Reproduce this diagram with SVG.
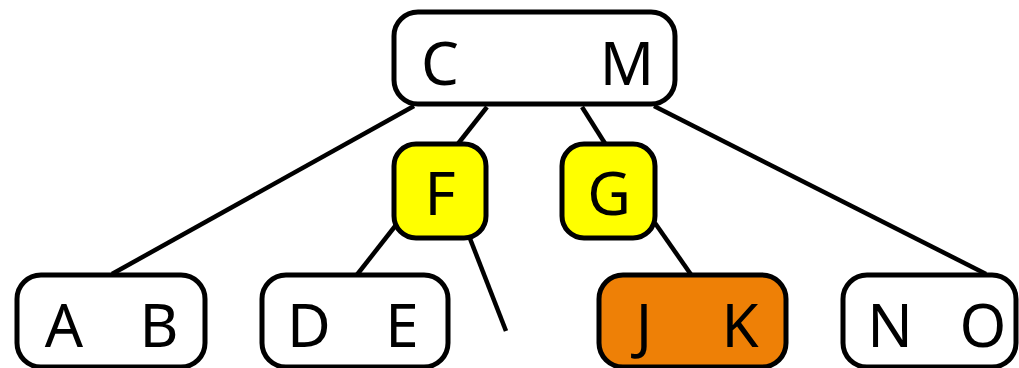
<svg xmlns="http://www.w3.org/2000/svg" width="1019" height="368" viewBox="0 0 1019 368">
<style>
.n{stroke:#000;stroke-width:5}
.w{fill:#fff}
.y{fill:#ffff00}
.o{fill:#ee8006}
.t{font-family:"Noto Sans","Open Sans",sans-serif;font-size:60px;fill:#000;text-anchor:middle}
.e{stroke:#000;stroke-width:4.5;fill:none}
</style>
<g id="edges">
<line class="e" x1="414" y1="106" x2="112" y2="274"/>
<line class="e" x1="487" y1="107" x2="457" y2="145"/>
<line class="e" x1="582" y1="107" x2="606" y2="145"/>
<line class="e" x1="654" y1="106" x2="986" y2="274"/>
<line class="e" x1="396" y1="225" x2="356" y2="276"/>
<line class="e" x1="469" y1="236" x2="506" y2="331"/>
<line class="e" x1="655" y1="223" x2="692" y2="276"/>
</g>
<g id="CM"><rect class="n w" x="394" y="12" width="281" height="92" rx="24"/><text class="t" x="440" y="85">C</text><text class="t" x="627" y="85">M</text></g>
<g id="F"><rect class="n y" x="394" y="144" width="92" height="94" rx="22"/><text class="t" x="440" y="215">F</text></g>
<g id="G"><rect class="n y" x="562" y="144" width="93" height="94" rx="22"/><text class="t" x="609" y="215">G</text></g>
<g id="AB"><rect class="n w" x="17" y="275" width="188" height="92" rx="24"/><text class="t" x="64" y="347">A</text><text class="t" x="159" y="347">B</text></g>
<g id="DE"><rect class="n w" x="262" y="275" width="186" height="92" rx="24"/><text class="t" x="309" y="347">D</text><text class="t" x="402" y="347">E</text></g>
<g id="JK"><rect class="n o" x="599" y="275" width="187" height="92" rx="24"/><text class="t" x="644" y="347">J</text><text class="t" x="740" y="347">K</text></g>
<g id="NO"><rect class="n w" x="843" y="275" width="173" height="92" rx="24"/><text class="t" x="890" y="347">N</text><text class="t" x="983" y="347">O</text></g>
</svg>
